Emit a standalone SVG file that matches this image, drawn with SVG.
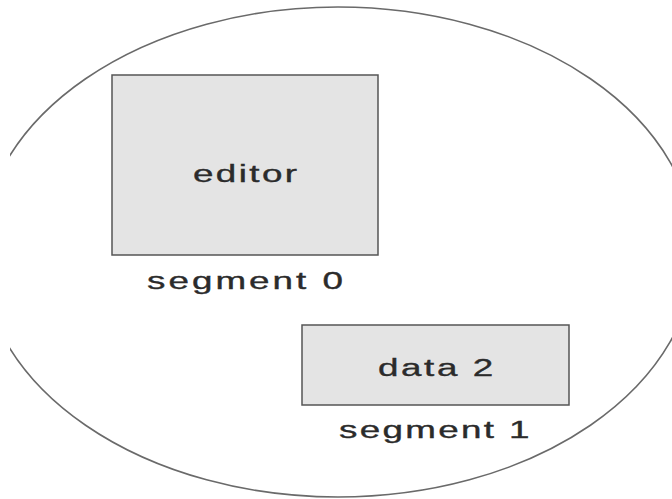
<svg xmlns="http://www.w3.org/2000/svg" width="672" height="499" viewBox="0 0 672 499">
  <style>
    .seg { fill: #e4e4e4; stroke: #555; stroke-width: 1.5; }
    .lbl { font-family: "Liberation Sans", Arial, Helvetica, sans-serif; font-size: 23px; fill: #2b2b2b; stroke: #2b2b2b; stroke-width: 0.35; }
    .outline { fill: none; stroke: #6a6a6a; stroke-width: 1.6; }
  </style>
  <defs>
    <clipPath id="clipView">
      <rect x="10" y="0" width="662" height="499"/>
    </clipPath>
  </defs>
  <rect x="0" y="0" width="672" height="499" fill="#ffffff"/>
  <g id="process-space" clip-path="url(#clipView)">
    <ellipse class="outline" cx="338" cy="252" rx="357" ry="245"/>
  </g>
  <g id="connectors"/>
  <g id="segment0">
    <rect class="seg" x="112" y="75" width="266" height="180"/>
    <text class="lbl" transform="translate(193,182) scale(1.6,1)" textLength="65" lengthAdjust="spacing">editor</text>
    <text class="lbl" transform="translate(147,289) scale(1.6,1)" textLength="122.5" lengthAdjust="spacing">segment 0</text>
  </g>
  <g id="segment1">
    <rect class="seg" x="302" y="325" width="267" height="80"/>
    <text class="lbl" transform="translate(378,376) scale(1.6,1)" textLength="72" lengthAdjust="spacing">data 2</text>
    <text class="lbl" transform="translate(339,438) scale(1.6,1)" textLength="119" lengthAdjust="spacing">segment 1</text>
  </g>
</svg>
